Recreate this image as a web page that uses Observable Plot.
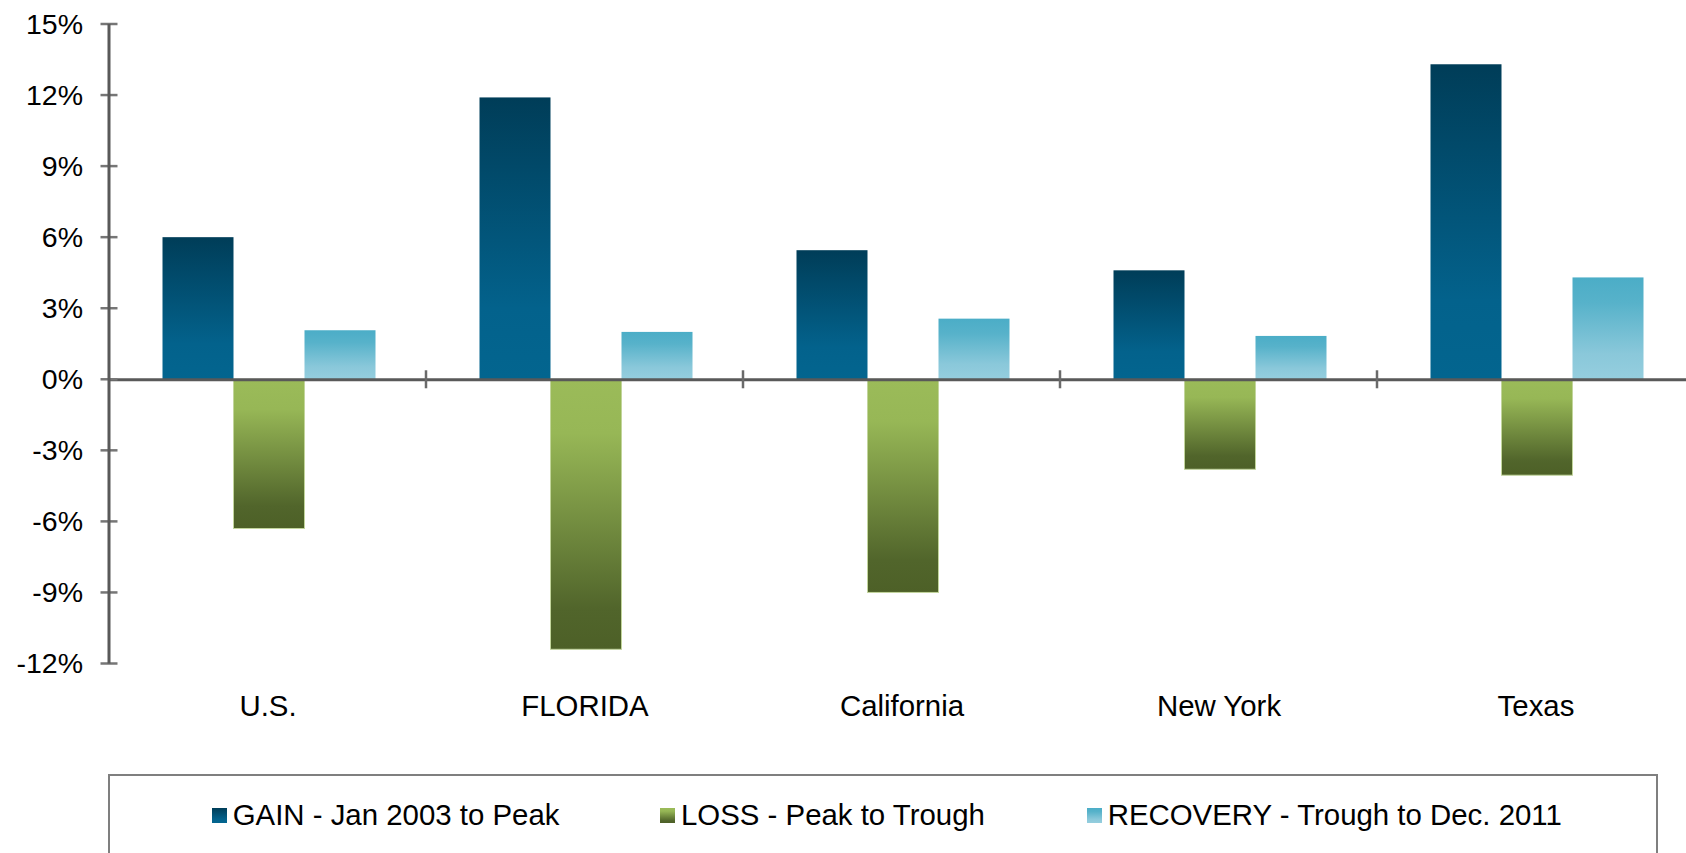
<!DOCTYPE html>
<html>
<head>
<meta charset="utf-8">
<script src="https://cdn.jsdelivr.net/npm/d3@7"></script>
<script src="https://cdn.jsdelivr.net/npm/@observablehq/plot@0.6"></script>
<style>
  html, body { margin: 0; padding: 0; background: #fff; overflow: hidden; }
  body { position: relative; width: 1686px; height: 853px; font-family: "Liberation Sans", Arial, sans-serif; }
  #chart { position: absolute; left: 0; top: 0; }
  #legend { position: absolute; left: 108px; top: 774px; width: 1546px; height: 120px;
            border: 2px solid #7f7f7f; background: #fff; }
  .item { position: absolute; top: 22.5px; font-size: 29.4px; line-height: 32px; color: #000; white-space: nowrap; }
  .sw { display: inline-block; width: 15px; height: 15px; margin-right: 6px; margin-bottom: 2px; vertical-align: baseline; }
</style>
</head>
<body>
<div id="chart"></div>
<div id="legend"></div>
<script>
// ---- data ----
const categories = ["U.S.", "FLORIDA", "California", "New York", "Texas"];
const seriesNames = ["GAIN", "LOSS", "RECOVERY"];
const seriesLabels = ["GAIN - Jan 2003 to Peak", "LOSS - Peak to Trough", "RECOVERY - Trough to Dec. 2011"];
const gain = [6.0, 11.9, 5.45, 4.6, 13.3];
const loss = [-6.3, -11.4, -9.0, -3.8, -4.05];
const recovery = [2.07, 2.0, 2.56, 1.83, 4.3];
const yTicks = [-12, -9, -6, -3, 0, 3, 6, 9, 12, 15];

const values = {GAIN: gain, LOSS: loss, RECOVERY: recovery};
const data = categories.flatMap((c, i) => seriesNames.map(s => ({cat: c, series: s, value: values[s][i]})));

const gradIds = {GAIN: "g-gain", LOSS: "g-loss", RECOVERY: "g-rec"};
const gradStops = {
  GAIN: [[0, "#003d58"], [0.75, "#03628c"], [1, "#03658f"]],
  LOSS: [[0, "#9bbb59"], [0.2, "#97b756"], [0.85, "#51652b"], [1, "#4d6027"]],
  RECOVERY: [[0, "#4badc7"], [0.25, "#57b2ca"], [0.75, "#8ac8da"], [1, "#95cede"]]
};

const plot = Plot.plot({
  width: 1686,
  height: 770,
  marginLeft: 107.5,
  marginRight: -9,
  marginTop: 24,
  marginBottom: 106.5,
  style: {fontFamily: "'Liberation Sans', Arial, sans-serif", fontSize: "28.5px", color: "#000", background: "#fff", overflow: "visible"},
  facet: {data, x: "cat"},
  fx: {domain: categories, padding: 0, axis: "bottom", tickSize: 0, tickPadding: 31.5, label: null},
  x: {domain: seriesNames, paddingInner: 0, paddingOuter: 0.726, align: 0.51, axis: null},
  y: {domain: [-12, 15], ticks: yTicks, tickFormat: d => d + "%", tickSize: 0, tickPadding: 26.5, label: null},
  marks: [
    ...seriesNames.map(s => Plot.barY(data, {
      filter: d => d.series === s,
      x: "series",
      y: "value",
      fill: `url(#${gradIds[s]})`,
      ...(s === "LOSS" ? {stroke: "#c2d59c", strokeWidth: 1} : {})
    })),
    Plot.ruleY([0], {stroke: "#595959", strokeWidth: 3})
  ]
});

document.getElementById("chart").appendChild(plot);

const svg = d3.select(plot);

// category labels a little larger than the value labels
svg.selectAll("text").filter(function() { return categories.includes(this.textContent); })
  .attr("font-size", "29.4px");

// gradients
const defs = svg.insert("defs", ":first-child");
for (const s of seriesNames) {
  const g = defs.append("linearGradient").attr("id", gradIds[s])
    .attr("x1", 0).attr("y1", 0).attr("x2", 0).attr("y2", 1);
  for (const [o, c] of gradStops[s]) g.append("stop").attr("offset", o).attr("stop-color", c);
}

// axis line, crossing ticks and category separators from the plot's scales
const yS = plot.scale("y");
const fxS = plot.scale("fx");
const x0 = fxS.apply(categories[0]);
const y0 = yS.apply(0);
const ov = svg.append("g");
for (const t of yTicks) {
  ov.append("line").attr("x1", x0 - 8.5).attr("x2", x0 + 8.5)
    .attr("y1", yS.apply(t)).attr("y2", yS.apply(t))
    .attr("stroke", "#767676").attr("stroke-width", 2.5);
}
ov.append("line").attr("x1", x0).attr("x2", x0)
  .attr("y1", yS.apply(15)).attr("y2", yS.apply(-12))
  .attr("stroke", "#595959").attr("stroke-width", 3);
for (const c of categories.slice(1)) {
  const x = fxS.apply(c);
  ov.append("line").attr("x1", x).attr("x2", x)
    .attr("y1", y0 - 9).attr("y2", y0 + 9)
    .attr("stroke", "#6a6a6a").attr("stroke-width", 2.5);
}

// legend
const legend = d3.select("#legend");
const lefts = [101.7, 550, 976.7];
seriesNames.forEach((s, i) => {
  const it = legend.append("div").attr("class", "item").style("left", lefts[i] + "px");
  const stops = gradStops[s];
  it.append("span").attr("class", "sw")
    .style("background", `linear-gradient(to bottom, ${stops.map(([o, c]) => c + " " + (o * 100) + "%").join(", ")})`);
  it.append("span").text(seriesLabels[i]);
});
</script>
</body>
</html>
